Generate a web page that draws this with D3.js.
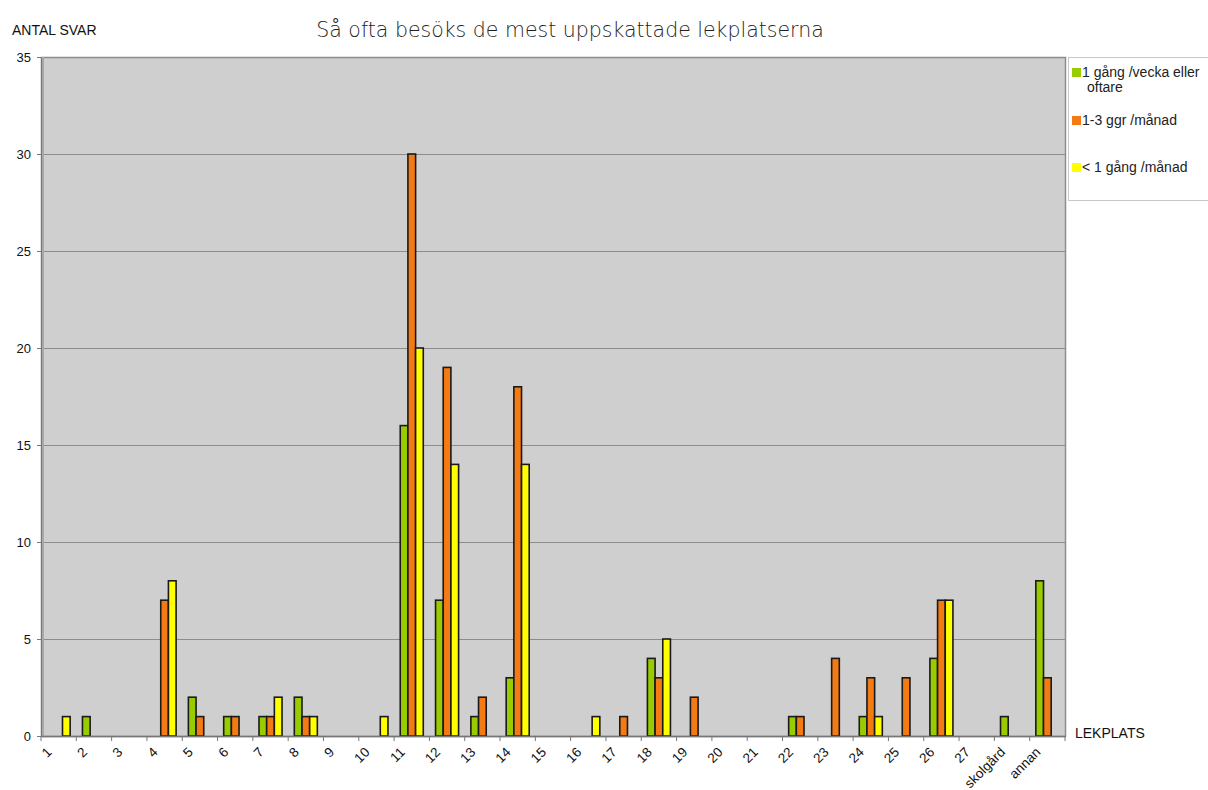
<!DOCTYPE html>
<html>
<head>
<meta charset="utf-8">
<script src="https://cdn.jsdelivr.net/npm/d3@7"></script>
<style>
  body { margin: 0; background: #fff; }
  text { font-family: "Liberation Sans", Arial, sans-serif; }
</style>
</head>
<body>
<div id="chart"></div>
<script>
var categories = ["1", "2", "3", "4", "5", "6", "7", "8", "9", "10", "11", "12", "13", "14", "15",
  "16", "17", "18", "19", "20", "21", "22", "23", "24", "25", "26", "27", "skolgård", "annan"];
var weekly = [0, 1, 0, 0, 2, 1, 1, 2, 0, 0, 16, 7, 1, 3, 0, 0, 0, 4, 0, 0, 0, 1, 0, 1, 0, 4, 0, 1, 8];
var monthly = [0, 0, 0, 7, 1, 1, 1, 1, 0, 0, 30, 19, 2, 18, 0, 0, 1, 3, 2, 0, 0, 1, 4, 3, 3, 7, 0, 0, 3];
var rarely = [1, 0, 0, 8, 0, 0, 2, 1, 0, 1, 20, 14, 0, 14, 0, 1, 0, 5, 0, 0, 0, 0, 0, 1, 0, 7, 0, 0, 0];
var yTicks = [0, 5, 10, 15, 20, 25, 30, 35];
var colors = ["#99cc00", "#f47a14", "#ffff00"];

var W = 1208, H = 790;
var plot = { left: 41, right: 1065, top: 57, bottom: 736 };

var svg = d3.select("#chart").append("svg")
  .attr("width", W)
  .attr("height", H);

var x = d3.scaleBand()
  .domain(categories)
  .range([plot.left, plot.right]);

var inner = d3.scaleBand()
  .domain([0, 1, 2])
  .range([0, x.bandwidth()])
  .paddingOuter(0.8)
  .paddingInner(0);

var y = d3.scaleLinear()
  .domain([0, 35])
  .range([plot.bottom, plot.top]);

// plot background
svg.append("rect")
  .attr("x", plot.left)
  .attr("y", plot.top)
  .attr("width", plot.right - plot.left)
  .attr("height", plot.bottom - plot.top)
  .attr("fill", "#cfcfcf");

// gridlines
svg.append("g")
  .selectAll("line")
  .data(yTicks.slice(1, -1))
  .enter().append("line")
  .attr("x1", plot.left)
  .attr("x2", plot.right)
  .attr("y1", function (d) { return y(d) + 0.5; })
  .attr("y2", function (d) { return y(d) + 0.5; })
  .attr("stroke", "#8c8c8c")
  .attr("stroke-width", 1);

// frame
svg.append("rect")
  .attr("x", plot.left + 0.5)
  .attr("y", plot.top + 0.5)
  .attr("width", plot.right - plot.left)
  .attr("height", plot.bottom - plot.top)
  .attr("fill", "none")
  .attr("stroke", "#8c8c8c")
  .attr("stroke-width", 1.5);
svg.append("line")
  .attr("x1", plot.left + 1.5).attr("x2", plot.left + 1.5)
  .attr("y1", plot.top).attr("y2", plot.bottom)
  .attr("stroke", "#a8a8a8").attr("stroke-width", 3);

// bars
var series = [weekly, monthly, rarely];
series.forEach(function (vals, s) {
  svg.append("g")
    .selectAll("rect")
    .data(vals.map(function (v, i) { return { cat: categories[i], v: v }; }).filter(function (d) { return d.v > 0; }))
    .enter().append("rect")
    .attr("x", function (d) { return x(d.cat) + inner(s); })
    .attr("y", function (d) { return y(d.v); })
    .attr("width", inner.bandwidth())
    .attr("height", function (d) { return y(0) - y(d.v); })
    .attr("fill", colors[s])
    .attr("stroke", "#1a1a1a")
    .attr("stroke-width", 1.6);
});

// y axis
var yAxis = d3.axisLeft(y).tickValues(yTicks).tickSize(4).tickPadding(6);
var gy = svg.append("g")
  .attr("transform", "translate(" + plot.left + ",0)")
  .call(yAxis);
gy.select(".domain").attr("stroke", "#777");
gy.selectAll(".tick line").attr("stroke", "#777");
gy.selectAll(".tick text").attr("font-size", 13).attr("fill", "#111")
  .style("font-family", "'Liberation Sans', Arial, sans-serif");

// x axis
var xAxis = d3.axisBottom(x).tickSize(0).tickFormat("");
var gx = svg.append("g")
  .attr("transform", "translate(0," + plot.bottom + ")")
  .call(xAxis);
gx.select(".domain").attr("stroke", "#777").attr("stroke-width", 1.5);

// category separators
svg.append("g")
  .selectAll("line")
  .data(d3.range(categories.length + 1))
  .enter().append("line")
  .attr("x1", function (i) { return plot.left + i * x.bandwidth(); })
  .attr("x2", function (i) { return plot.left + i * x.bandwidth(); })
  .attr("y1", plot.bottom)
  .attr("y2", plot.bottom + 5)
  .attr("stroke", "#777");

// rotated category labels
svg.append("g")
  .selectAll("text")
  .data(categories)
  .enter().append("text")
  .attr("transform", function (d) {
    return "translate(" + (x(d) + x.bandwidth() / 2 - 6) + "," + (plot.bottom + 17) + ") rotate(-45)";
  })
  .attr("text-anchor", "end")
  .attr("font-size", 13.5)
  .attr("fill", "#111")
  .text(function (d) { return d; });

// titles
svg.append("text")
  .attr("x", 570)
  .attr("y", 37)
  .attr("text-anchor", "middle")
  .attr("font-size", 20.5)
  .attr("fill", "#222")
  .style("font-family", "'DejaVu Sans', sans-serif")
  .style("font-weight", 300)
  .text("Så ofta besöks de mest uppskattade lekplatserna");

svg.append("text")
  .attr("x", 12)
  .attr("y", 35)
  .attr("font-size", 14)
  .attr("fill", "#111")
  .text("ANTAL SVAR");

svg.append("text")
  .attr("x", 1075)
  .attr("y", 738)
  .attr("font-size", 14)
  .attr("fill", "#111")
  .text("LEKPLATS");

// legend
var legend = svg.append("g");
legend.append("rect")
  .attr("x", 1068.5)
  .attr("y", 57.5)
  .attr("width", 140)
  .attr("height", 143)
  .attr("fill", "#fff")
  .attr("stroke", "#c8c8c8");

var legendRows = [
  { lines: ["1 gång /vecka eller", "oftare"], y: 77 },
  { lines: ["1-3 ggr /månad"], y: 125 },
  { lines: ["< 1 gång /månad"], y: 172 }
];
legendRows.forEach(function (r, i) {
  legend.append("rect")
    .attr("x", 1072)
    .attr("y", r.y - 9)
    .attr("width", 9)
    .attr("height", 9)
    .attr("fill", colors[i]);
  var t = legend.append("text")
    .attr("x", 1082)
    .attr("y", r.y)
    .attr("font-size", 14)
    .attr("fill", "#222");
  r.lines.forEach(function (ln, j) {
    t.append("tspan")
      .attr("x", j === 0 ? 1082 : 1087)
      .attr("dy", j === 0 ? 0 : 15)
      .text(ln);
  });
});
</script>
</body>
</html>
